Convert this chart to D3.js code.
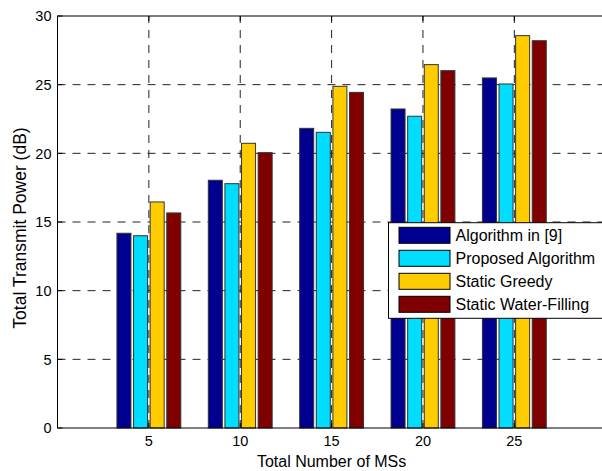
<!DOCTYPE html>
<html><head><meta charset="utf-8">
<script src="https://cdn.jsdelivr.net/npm/d3@7"></script>
<style>body{margin:0;background:#fff}svg{display:block;font-family:"Liberation Sans",Arial,sans-serif}</style>
</head><body><svg id="c" width="602" height="471"></svg>
<script>
const categories = [5, 10, 15, 20, 25];
const seriesNames = ["Algorithm in [9]", "Proposed Algorithm", "Static Greedy", "Static Water-Filling"];
const algorithm9 = [14.18, 18.04, 21.82, 23.23, 25.49];
const proposed   = [14.00, 17.79, 21.53, 22.70, 25.05];
const greedy     = [16.46, 20.73, 24.88, 26.46, 28.57];
const waterFill  = [15.66, 20.05, 24.44, 26.02, 28.20];
const colors = ["#000090", "#00DDFF", "#FFCC00", "#800000"];
const xTicks = [5, 10, 15, 20, 25];
const yTicks = [0, 5, 10, 15, 20, 25, 30];

const series = [algorithm9, proposed, greedy, waterFill];
const svg = d3.select("#c");
const L = 57.5, T = 16, R = 605.7, B = 428;
const x = d3.scaleLinear().domain([0, 30]).range([L, R]);
const y = d3.scaleLinear().domain([0, 30]).range([B, T]);
const groupW = (x(5) - x(0)) * 4 / 5.5;
const inner = d3.scaleBand().domain(d3.range(series.length))
  .range([-groupW / 2, groupW / 2]).paddingInner(0.157).paddingOuter(0.0785);

const g = svg.append("g");
// grid
g.selectAll(".hg").data(yTicks.filter(v => v > 0 && v < 30)).join("line")
  .attr("x1", L).attr("x2", R).attr("y1", d => y(d)).attr("y2", d => y(d))
  .attr("stroke", "#222").attr("stroke-dasharray", "8,7");
g.selectAll(".vg").data(xTicks).join("line")
  .attr("x1", d => x(d)).attr("x2", d => x(d)).attr("y1", B).attr("y2", T)
  .attr("stroke", "#222").attr("stroke-dasharray", "8,7");

// bars
series.forEach((vals, si) => {
  g.append("g").selectAll("rect").data(vals).join("rect")
    .attr("x", (d, i) => x(categories[i]) + inner(si))
    .attr("width", inner.bandwidth())
    .attr("y", d => y(d))
    .attr("height", d => B - y(d))
    .attr("fill", colors[si])
    .attr("stroke", "#333").attr("stroke-width", 1);
});

// axes box
g.append("rect").attr("x", L).attr("y", T).attr("width", R - L).attr("height", B - T)
  .attr("fill", "none").attr("stroke", "#000").attr("stroke-width", 1);
// inner ticks
g.selectAll(".yt").data(yTicks).join("line")
  .attr("x1", L).attr("x2", L + 5).attr("y1", d => y(d)).attr("y2", d => y(d)).attr("stroke", "#000");
g.selectAll(".xt").data(xTicks).join("line")
  .attr("x1", d => x(d)).attr("x2", d => x(d)).attr("y1", B).attr("y2", B - 5).attr("stroke", "#000");
g.selectAll(".xt2").data(xTicks).join("line")
  .attr("x1", d => x(d)).attr("x2", d => x(d)).attr("y1", T).attr("y2", T + 5).attr("stroke", "#000");

// tick labels
g.selectAll(".yl").data(yTicks).join("text")
  .attr("x", L - 6).attr("y", d => y(d)).attr("dy", "0.36em")
  .attr("text-anchor", "end").attr("font-size", 14.5).text(d => d);
g.selectAll(".xl").data(xTicks).join("text")
  .attr("x", d => x(d)).attr("y", 446).attr("text-anchor", "middle")
  .attr("font-size", 14.5).text(d => d);

// axis titles
svg.append("text").attr("x", (L + R) / 2).attr("y", 467).attr("text-anchor", "middle")
  .attr("font-size", 16).text("Total Number of MSs");
svg.append("text").attr("transform", "translate(26,228) rotate(-90)").attr("text-anchor", "middle")
  .attr("font-size", 17.5).text("Total Transmit Power (dB)");

// legend
const lg = svg.append("g").attr("transform", "translate(388.5,222.7)");
lg.append("rect").attr("width", 220).attr("height", 95.6).attr("fill", "#fff").attr("stroke", "#000");
seriesNames.forEach((n, i) => {
  lg.append("rect").attr("x", 10.5).attr("y", 4.6 + i * 23).attr("width", 51).attr("height", 16)
    .attr("fill", colors[i]).attr("stroke", "#000");
  lg.append("text").attr("x", 67).attr("y", 12.6 + i * 23).attr("dy", "0.36em")
    .attr("font-size", 16).text(n);
});
</script></body></html>
